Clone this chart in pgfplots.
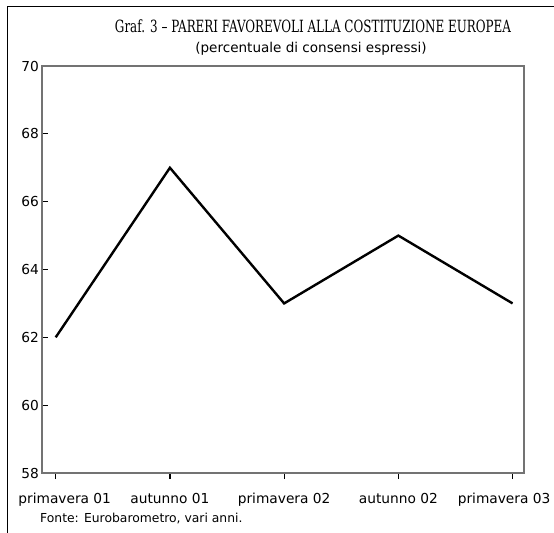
\documentclass[border=0pt]{standalone}
\usepackage{fontspec}
\setmainfont{DejaVu Sans}
\newfontfamily\titlefont{DejaVu Serif Condensed}
\usepackage{pgfplots}
\pgfplotsset{compat=1.18}
\begin{document}
\begin{tikzpicture}
\path[use as bounding box] (0bp,0bp) rectangle (554bp,533bp);
\draw[line width=1.5bp] (7.5bp,0bp) -- (7.5bp,526.5bp) -- (554bp,526.5bp);
\node[anchor=base, inner sep=0pt] at (313bp,500bp) {\resizebox{396bp}{12.8bp}{\titlefont Graf. 3 – PARERI FAVOREVOLI ALLA COSTITUZIONE EUROPEA}};
\node[anchor=base, inner sep=0pt, font=\fontsize{13.6}{16}\selectfont] at (311bp,480bp) {(percentuale di consensi espressi)};
\node[anchor=base west, inner sep=0pt, font=\fontsize{12.4}{15}\selectfont] at (40bp,11bp) {Fonte: Eurobarometro, vari anni.};
\begin{axis}[
  at={(42bp,60bp)}, anchor=south west,
  scale only axis, width=482bp, height=407bp,
  xmin=-0.12, xmax=4.1, ymin=58, ymax=70,
  xtick={0,1,2,3,4},
  xticklabels={{\hspace*{18bp}primavera 01},autunno 01,primavera 02,autunno 02,{primavera 03\hspace*{17bp}}},
  ytick={58,60,62,64,66,68,70},
  tick pos=left,
  xtick align=outside, ytick align=inside,
  major tick length=6bp,
  every tick/.style={black, line width=1.2bp},
  axis line style={black!55, line width=1.3bp},
  /pgf/number format/assume math mode=true,
  tick label style={font=\fontsize{13.8}{16}\selectfont},
  yticklabel style={anchor=east, inner sep=0pt, xshift=-3bp},
  xticklabel style={anchor=north, inner sep=0pt, yshift=-14bp},
]
\addplot[black, line width=2.4bp, mark=none] coordinates {(0,62) (1,67) (2,63) (3,65) (4,63)};
\end{axis}
\end{tikzpicture}
\end{document}
